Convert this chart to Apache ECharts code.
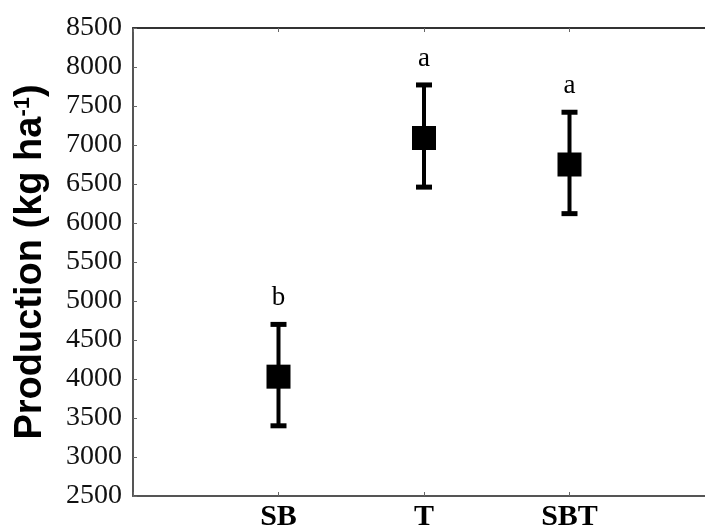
<!DOCTYPE html>
<html>
<head>
<meta charset="utf-8">
<script src="https://cdn.jsdelivr.net/npm/echarts@6/dist/echarts.min.js"></script>
<style>html,body{margin:0;padding:0;background:#fff}#chart{width:705px;height:529px}</style>
</head>
<body>
<div id="chart"></div>
<script>
const categories = ['SB', 'T', 'SBT'];
const means = [4030, 7090, 6750];
const lowerBounds = [3400, 6460, 6120];
const upperBounds = [4700, 7770, 7420];
const letters = ['b', 'a', 'a'];
const yTicks = { min: 2500, max: 8500, interval: 500 };

const serif = "'Liberation Serif', 'Times New Roman', serif";
const sans = "'Liberation Sans', Arial, sans-serif";

const meanData = means.map((v, i) => [i + 1, v]);
const barData = categories.map((c, i) => [i + 1, lowerBounds[i], upperBounds[i]]);

const chart = echarts.init(document.getElementById('chart'), null, { renderer: 'canvas' });
chart.setOption({
  backgroundColor: '#fff',
  animation: false,
  grid: { left: 133, right: -10, top: 28, bottom: 33, containLabel: false, outerBoundsMode: 'none' },
  xAxis: [
    {
      type: 'value', min: 0, max: 4, interval: 1, position: 'bottom',
      axisLine: { show: true, lineStyle: { color: '#555', width: 2 } },
      axisTick: { show: true, inside: true, length: 4, lineStyle: { color: '#666' } },
      splitLine: { show: false },
      axisLabel: {
        margin: 6,
        formatter: v => categories[v - 1] || '',
        fontFamily: serif, fontWeight: 'bold', fontSize: 30, color: '#000'
      }
    },
    {
      type: 'value', min: 0, max: 4, interval: 1, position: 'top',
      axisLine: { show: true, lineStyle: { color: '#333', width: 2 } },
      axisTick: { show: true, inside: true, length: 4, lineStyle: { color: '#666' } },
      splitLine: { show: false },
      axisLabel: { show: false }
    }
  ],
  yAxis: {
    type: 'value', min: yTicks.min, max: yTicks.max, interval: yTicks.interval,
    axisLine: { show: true, lineStyle: { color: '#555', width: 2 } },
    axisTick: { show: true, inside: true, length: 4, lineStyle: { color: '#666' } },
    splitLine: { show: false },
    axisLabel: { margin: 11, fontFamily: serif, fontSize: 28, color: '#111', formatter: v => String(v) },
    name: 'Production (kg ha{sup|-1})',
    nameLocation: 'middle',
    nameGap: 83,
    nameRotate: 90,
    nameTextStyle: {
      fontFamily: sans, fontWeight: 'bold', fontSize: 38, color: '#000',
      rich: {
        sup: { fontFamily: sans, fontWeight: 'bold', fontSize: 22, color: '#000', verticalAlign: 'top', padding: [0, 0, 16, 0] }
      }
    }
  },
  series: [
    {
      type: 'custom',
      data: barData,
      z: 2,
      renderItem: function (params, api) {
        const x = api.value(0);
        const lo = api.coord([x, api.value(1)]);
        const hi = api.coord([x, api.value(2)]);
        const cap = 8;
        const st = { stroke: '#000', lineWidth: 4 };
        return {
          type: 'group',
          children: [
            { type: 'line', shape: { x1: lo[0], y1: lo[1], x2: hi[0], y2: hi[1] }, style: st },
            { type: 'line', shape: { x1: hi[0] - cap, y1: hi[1], x2: hi[0] + cap, y2: hi[1] }, style: { stroke: '#000', lineWidth: 5 } },
            { type: 'line', shape: { x1: lo[0] - cap, y1: lo[1], x2: lo[0] + cap, y2: lo[1] }, style: { stroke: '#000', lineWidth: 5 } },
            {
              type: 'text', x: hi[0], y: hi[1] - 13,
              style: { text: letters[params.dataIndex], fontFamily: serif, fontSize: 27, fill: '#000', align: 'center', verticalAlign: 'bottom' }
            }
          ]
        };
      }
    },
    {
      type: 'scatter',
      data: meanData,
      symbol: 'rect',
      symbolSize: 24,
      z: 3,
      itemStyle: { color: '#000', opacity: 1 }
    }
  ]
});
</script>
</body>
</html>
